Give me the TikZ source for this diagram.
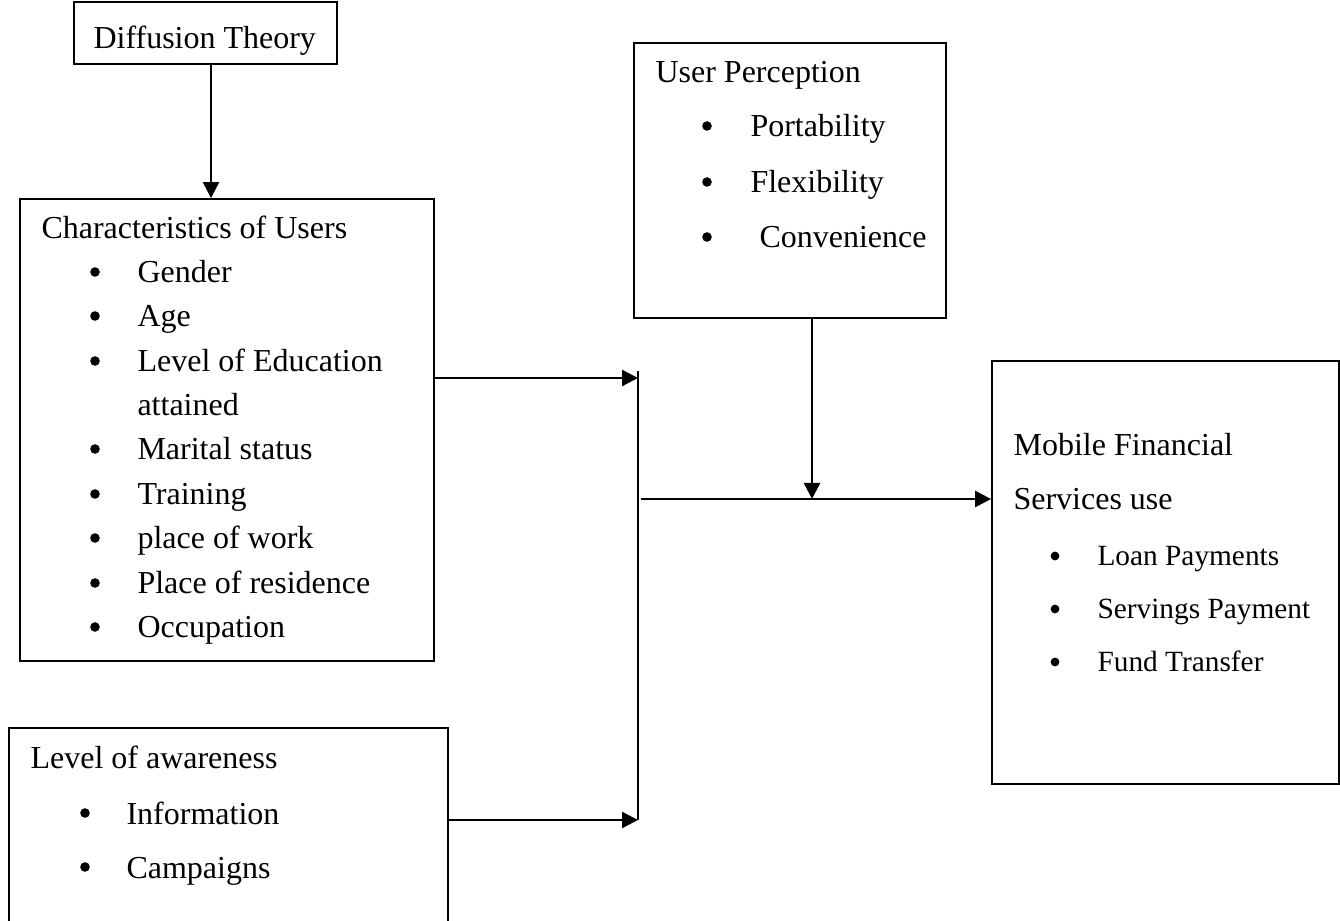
\documentclass[tikz,border=0pt]{standalone}
\usepackage{fontspec}
\setmainfont{Liberation Serif}
\usetikzlibrary{arrows.meta,fit}
\tikzset{
  box/.style={draw, line width=0.7pt, inner sep=0pt},
  txt/.style={anchor=base west, inner sep=0pt, font=\fontsize{12}{14}\selectfont},
  stxt/.style={anchor=base west, inner sep=0pt, font=\fontsize{11}{13}\selectfont},
  bul/.style={circle, fill, inner sep=0pt, minimum size=3.6pt},
  sbul/.style={circle, fill, inner sep=0pt, minimum size=3.3pt},
  arr/.style={line width=0.9pt, -{Triangle[length=6pt,width=6pt]}},
  ln/.style={line width=0.9pt}
}
\begin{document}
\begin{tikzpicture}[x=0.375pt,y=-0.375pt]
\clip (0,0) rectangle (1340,921);
\fill[white] (0,0) rectangle (1340,921);
% boxes
\node[box, fit={(74,2) (337,64)}] (diff) {};
\node[box, fit={(20,199) (434,661)}] (char) {};
\node[box, fit={(9,728) (448,940)}] (aware) {};
\node[box, fit={(634,43) (946,318)}] (percep) {};
\node[box, fit={(992,361) (1339,784)}] (mob) {};
% texts
\node[txt] (dt) at (93,49) {Diffusion Theory};
\node[txt] (c0) at (41,239) {Characteristics of Users};
\node[bul] (cb1) at (95,272) {};
\node[txt] (c1) at (137,283) {Gender};
\node[bul] (cb2) at (95,316) {};
\node[txt] (c2) at (137,327) {Age};
\node[bul] (cb3) at (95,361) {};
\node[txt] (c3) at (137,372) {Level of Education};
\node[txt] (c3b) at (137,416) {attained};
\node[bul] (cb4) at (95,449) {};
\node[txt] (c4) at (137,460) {Marital status};
\node[bul] (cb5) at (95,494) {};
\node[txt] (c5) at (137,505) {Training};
\node[bul] (cb6) at (95,538) {};
\node[txt] (c6) at (137,549) {place of work};
\node[bul] (cb7) at (95,583) {};
\node[txt] (c7) at (137,594) {Place of residence};
\node[bul] (cb8) at (95,627) {};
\node[txt] (c8) at (137,638) {Occupation};
\node[txt] (a0) at (30,768) {Level of awareness};
\node[bul] (ab1) at (85,813) {};
\node[txt] (a1) at (126,824) {Information};
\node[bul] (ab2) at (85,867) {};
\node[txt] (a2) at (126,878) {Campaigns};
\node[txt] (p0) at (655,83) {User Perception};
\node[bul] (pb1) at (707,126) {};
\node[txt] (p1) at (750,137) {Portability};
\node[bul] (pb2) at (707,182) {};
\node[txt] (p2) at (750,193) {Flexibility};
\node[bul] (pb3) at (707,237) {};
\node[txt] (p3) at (759,248) {Convenience};
\node[txt] (m0) at (1013,456) {Mobile Financial};
\node[txt] (m0b) at (1013,510) {Services use};
\node[sbul] (mb1) at (1055,556) {};
\node[stxt] (m1) at (1097,566) {Loan Payments};
\node[sbul] (mb2) at (1055,609) {};
\node[stxt] (m2) at (1097,619) {Servings Payment};
\node[sbul] (mb3) at (1055,662) {};
\node[stxt] (m3) at (1097,672) {Fund Transfer};
% connector coordinates
\coordinate (dx) at (211,0);
\coordinate (jt) at (638,371);
\coordinate (j1) at (638,378);
\coordinate (j2) at (638,820);
\coordinate (h0) at (641,499);
\coordinate (hm) at (812,499);
% connectors
\draw[arr] (diff.south -| dx) -- (char.north -| dx);
\draw[arr] (j1 -| char.east) -- (j1);
\draw[arr] (j2 -| aware.east) -- (j2);
\draw[ln] (jt) -- (j2);
\draw[arr] (percep.south -| hm) -- (hm);
\draw[arr] (h0) -- (h0 -| mob.west);
\end{tikzpicture}
\end{document}
